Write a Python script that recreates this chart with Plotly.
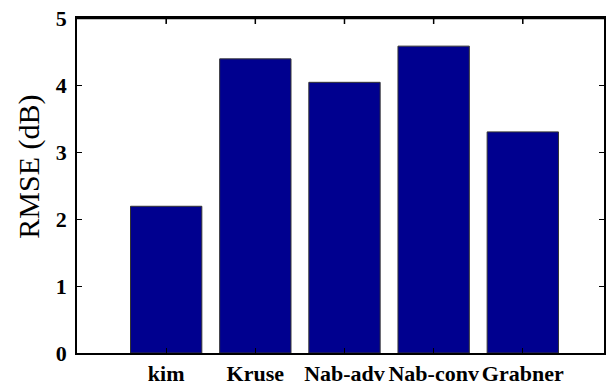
import plotly.graph_objects as go

categories = ["kim", "Kruse", "Nab-adv", "Nab-conv", "Grabner"]
rmse_db = [2.19, 4.39, 4.04, 4.58, 3.30]
y_ticks = [0, 1, 2, 3, 4, 5]

positions = list(range(1, len(categories) + 1))

fig = go.Figure()
fig.add_trace(go.Bar(
    x=positions, y=rmse_db, width=0.8,
    marker=dict(color="#00008F", line=dict(color="#333333", width=1)),
))

tickfont = dict(family="Liberation Serif", size=22, color="black", weight="bold")

W, H = 606, 386
L, T, B = 77, 18, 32
plot_w = W - L
plot_h = H - T - B

# top border line and top (mirrored) inside ticks, drawn in data/paper coords
shapes = [dict(type="line", xref="x", yref="y", x0=0, x1=plot_w / 89.5, y0=5, y1=5,
               line=dict(color="black", width=2.5), layer="above")]
for p in positions:
    shapes.append(dict(type="line", xref="x", yref="y", x0=p, x1=p,
                       y0=5, y1=5 - 6 * 5 / plot_h, line=dict(color="black", width=1.5),
                       layer="above"))

fig.update_layout(
    width=W, height=H,
    margin=dict(l=L, r=0, t=T, b=B),
    paper_bgcolor="white", plot_bgcolor="white",
    showlegend=False,
    shapes=shapes,
    xaxis=dict(
        range=[0, plot_w / 89.5], tickvals=positions, ticktext=categories,
        showgrid=False, zeroline=False, showline=True, linecolor="black", linewidth=1.5,
        mirror="ticks", ticks="inside", ticklen=5, tickcolor="black",
        tickfont=tickfont, ticklabelstandoff=0,
    ),
    yaxis=dict(
        range=[0, 5], tickvals=y_ticks,
        showgrid=False, zeroline=False, showline=True, linecolor="black", linewidth=1.5,
        mirror="ticks", ticks="inside", ticklen=5, tickcolor="black",
        tickfont=tickfont, ticklabelstandoff=4,
    ),
    annotations=[dict(
        text="RMSE (dB)", textangle=-90, showarrow=False,
        xref="paper", yref="paper", x=(28 - L) / plot_w, y=(354 - 167) / plot_h,
        xanchor="center", yanchor="middle",
        font=dict(family="Liberation Serif", size=30, color="black"),
    )],
)

fig.write_html(
    "out.html",
    config={"displayModeBar": False},
    post_script="document.body.style.margin='0';document.body.style.overflow='hidden';",
)
